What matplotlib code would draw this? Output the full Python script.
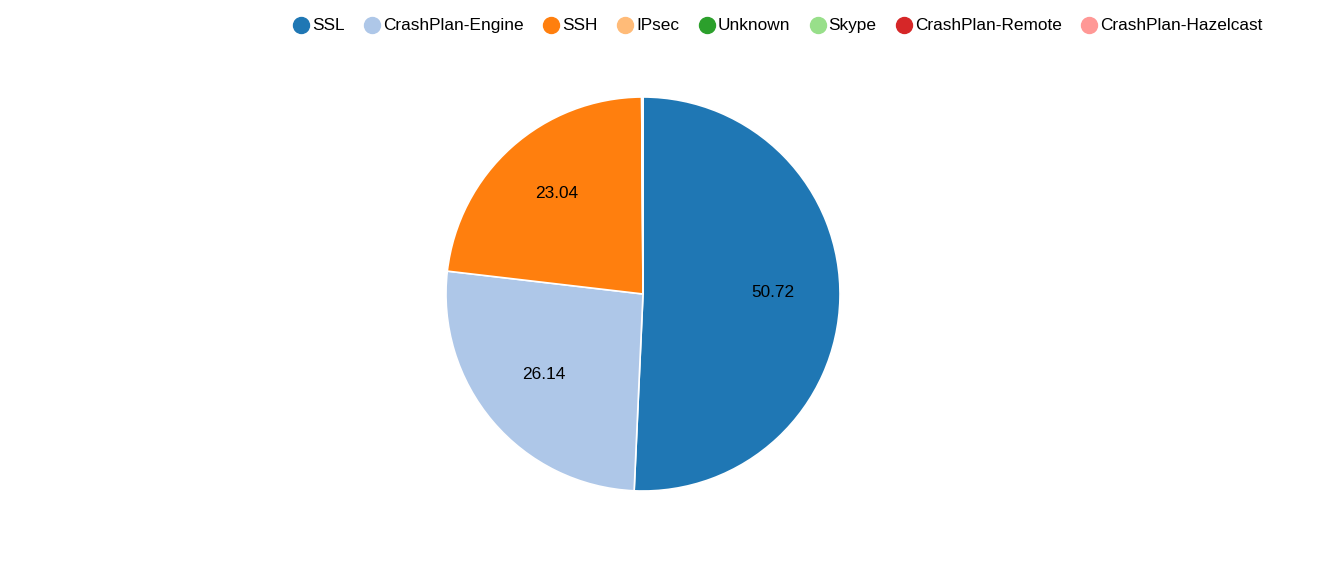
import matplotlib
matplotlib.use("Agg")
import matplotlib.pyplot as plt
from matplotlib.lines import Line2D
import numpy as np

plt.rcParams['font.family'] = ['Liberation Sans', 'DejaVu Sans']

labels = ["SSL", "CrashPlan-Engine", "SSH", "IPsec", "Unknown", "Skype",
          "CrashPlan-Remote", "CrashPlan-Hazelcast"]
values = [50.72, 26.14, 23.04, 0.06, 0.02, 0.01, 0.01, 0.01]
colors = ["#1f77b4", "#aec7e8", "#ff7f0e", "#ffbb78", "#2ca02c", "#98df8a",
          "#d62728", "#ff9896"]
shown = [True, True, True, False, False, False, False, False]

W, H = 1335, 574
fig = plt.figure(figsize=(W / 100, H / 100), dpi=100)
cx, cy, r = 643, 294, 197
ax = fig.add_axes([(cx - r) / W, (H - cy - r) / H, 2 * r / W, 2 * r / H])
wedges, texts = ax.pie(values, colors=colors, startangle=90, counterclock=False,
                       radius=1, wedgeprops=dict(edgecolor="white", linewidth=1.2))
for w, v, s in zip(wedges, values, shown):
    if s:
        ang = np.deg2rad((w.theta1 + w.theta2) / 2)
        ax.text(0.66 * np.cos(ang), 0.66 * np.sin(ang) + 0.02, f"{v:.2f}",
                ha="center", va="center", fontsize=12.4, color="black")
ax.set_xlim(-1, 1)
ax.set_ylim(-1, 1)
ax.set_aspect("equal")
ax.axis("off")

# Legend drawn manually across the top
fig.canvas.draw()
renderer = fig.canvas.get_renderer()
x = 301
ly = 25
for lab, col in zip(labels, colors):
    fig.add_artist(Line2D([x / W], [1 - ly / H], marker="o", markersize=11.5,
                          color=col, linestyle="none", transform=fig.transFigure))
    t = fig.text((x + 11) / W, 1 - (ly + 0.5) / H, lab, fontsize=12.4, ha="left",
                 va="center", color="black")
    bb = t.get_window_extent(renderer=renderer)
    x = bb.x1 + 27.5

fig.savefig("out.png", dpi=100, facecolor="white")
